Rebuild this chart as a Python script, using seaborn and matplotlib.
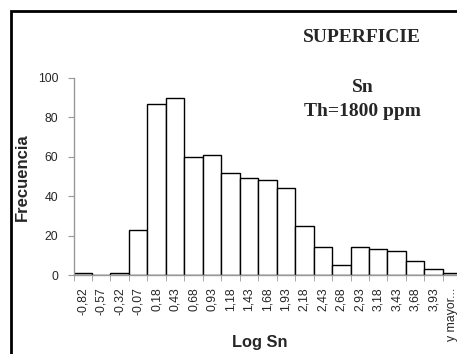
import matplotlib
matplotlib.use("Agg")
import matplotlib.pyplot as plt
import matplotlib.patches as mpatches
import pandas as pd
import seaborn as sns

# Histogram classes (log Sn) and counts
bins = ["-0,82", "-0,57", "-0,32", "-0,07", "0,18", "0,43", "0,68", "0,93",
        "1,18", "1,43", "1,68", "1,93", "2,18", "2,43", "2,68", "2,93",
        "3,18", "3,43", "3,68", "3,93", "y mayor..."]
counts = [1, 0, 1, 23, 87, 90, 60, 61, 52, 49, 48, 44, 25, 14, 5, 14,
          13, 12, 7, 3, 1]

df = pd.DataFrame({"bin": bins, "count": counts})

sns.set_style("white")
plt.rcParams["font.family"] = ["Liberation Sans", "DejaVu Sans"]

W, H = 457, 354
fig = plt.figure(figsize=(W / 100, H / 100), dpi=100)

# axes runs past the right edge, as in the cropped original
left, bottom, top = 73.5, 275, 78
bar_w = 18.47
right = left + len(bins) * bar_w
ax = fig.add_axes([left / W, 1 - bottom / H, (right - left) / W, (bottom - top) / H])

sns.barplot(data=df, x="bin", y="count", ax=ax, color="white",
            edgecolor="black", linewidth=1.0, width=1.0, saturation=1)

ax.set_xlim(-0.5, len(bins) - 0.5)
ax.set_ylim(0, 100)
ax.set_yticks([0, 20, 40, 60, 80, 100])
ax.tick_params(axis="y", labelsize=8.8, length=4, color="#999999", direction="out",
               left=True, pad=7)
ax.set_xticks(range(len(bins)))
ax.set_xticklabels(bins, rotation=90, fontsize=8.8)
ax.tick_params(axis="x", length=0, pad=9)
# category-boundary tick marks like the spreadsheet axis
ax.set_xticks([i - 0.5 for i in range(len(bins) + 1)], minor=True)
ax.tick_params(axis="x", which="minor", length=4, color="#999999", direction="out", bottom=True)

for s in ["top", "right"]:
    ax.spines[s].set_visible(False)
for s in ["left", "bottom"]:
    ax.spines[s].set_color("#999999")
    ax.spines[s].set_linewidth(1.0)
ax.set_xlabel("")
ax.set_ylabel("")

fig.text(22.5 / W, 1 - 177 / H, "Frecuencia", rotation=90, ha="center", va="center",
         fontsize=12, fontweight="bold")
fig.text(260 / W, 1 - 342 / H, "Log Sn", ha="center", va="center",
         fontsize=11.8, fontweight="bold")

serif = ["Liberation Serif", "DejaVu Serif"]
fig.text(362 / W, 1 - 37 / H, "SUPERFICIE", ha="center", va="center",
         fontsize=14, fontweight="bold", family=serif)
fig.text(363 / W, 1 - 87 / H, "Sn", ha="center", va="center",
         fontsize=14, fontweight="bold", family=serif)
fig.text(362 / W, 1 - 111 / H, "Th=1800 ppm", ha="center", va="center",
         fontsize=14, fontweight="bold", family=serif)

# outer black frame (only left and top visible)
fig.patches.append(mpatches.Rectangle((11 / W, -0.1), 1.2, 1 - 11 / H + 0.1,
                                      transform=fig.transFigure, fill=False,
                                      edgecolor="black", linewidth=2.0))

fig.savefig("out.png", dpi=100)
